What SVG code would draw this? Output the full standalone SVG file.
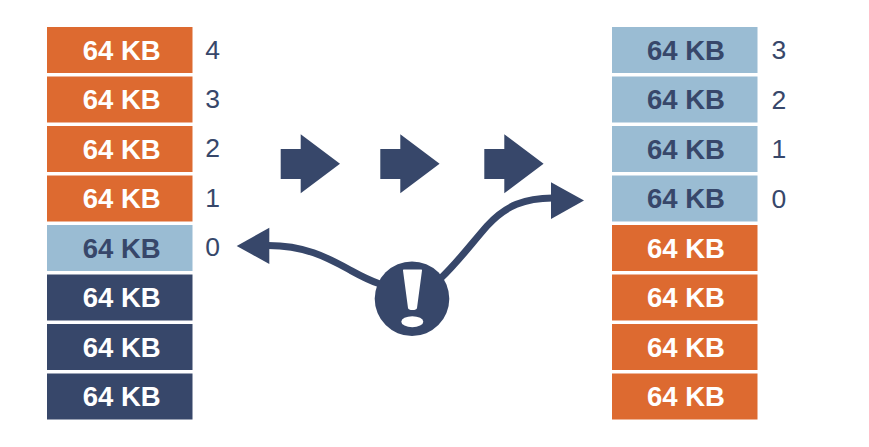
<svg xmlns="http://www.w3.org/2000/svg" width="869" height="447" viewBox="0 0 869 447">
<style>
.o{fill:#dd6a30}.b{fill:#9abcd3}.d{fill:#37476a}
text{font-family:"Liberation Sans",Arial,sans-serif}
.l{font-size:27.500px;font-weight:700;text-anchor:middle;fill:#fff}
.ld{font-size:27.500px;font-weight:700;text-anchor:middle;fill:#37476a}
.n{font-size:26.500px;fill:#37476a}
.c{fill:none;stroke:#37476a;stroke-width:7}
</style>
<rect width="869" height="447" fill="#fff"/>
<g id="connectors">
<path class="c" d="M266 245.500C305 245 328 258 350 270C360 275.500 368 280 380 284"/>
<path class="c" d="M440 279C458 262 472 243 487 226C505 206 525 197.500 555 198"/>
<polygon class="d" points="236.700,246 269.300,227.700 269.300,264"/>
<polygon class="d" points="584,200.500 551,182.300 551,219"/>
</g>
<g id="arrow-1"><polygon class="d" points="280.700,149 300.700,149 300.700,134.300 340,163.700 300.700,193.300 300.700,179 280.700,179"/></g>
<g id="arrow-2"><polygon class="d" points="380.300,149 400.300,149 400.300,134.300 439.600,163.700 400.300,193.300 400.300,179 380.300,179"/></g>
<g id="arrow-3"><polygon class="d" points="484.300,149 504.300,149 504.300,134.300 543.600,163.700 504.300,193.300 504.300,179 484.300,179"/></g>
<g id="warning">
<circle class="d" cx="412" cy="298.700" r="37.300"/>
<path fill="#fff" d="M403 270.500Q402.500 269.500 404 269.500L421 269.500Q422.500 269.500 422 270.500L417 308Q416.500 310 412.500 310Q408.500 310 408 308Z"/>
<ellipse cx="412.300" cy="321.700" rx="11" ry="5.500" fill="#fff"/>
</g>
<g id="left-0"><rect class="o" x="47" y="27" width="145.500" height="46"/><text class="l" x="121.700" y="59.500">64 KB</text><text class="n" x="205.300" y="58.500">4</text></g>
<g id="left-1"><rect class="o" x="47" y="76.500" width="145.500" height="46"/><text class="l" x="121.700" y="109">64 KB</text><text class="n" x="205.300" y="107.500">3</text></g>
<g id="left-2"><rect class="o" x="47" y="126" width="145.500" height="46"/><text class="l" x="121.700" y="158.500">64 KB</text><text class="n" x="205.300" y="157">2</text></g>
<g id="left-3"><rect class="o" x="47" y="175.500" width="145.500" height="46"/><text class="l" x="121.700" y="208">64 KB</text><text class="n" x="205.300" y="206.500">1</text></g>
<g id="left-4"><rect class="b" x="47" y="225" width="145.500" height="46"/><text class="ld" x="121.700" y="257.500">64 KB</text><text class="n" x="205.300" y="256">0</text></g>
<g id="left-5"><rect class="d" x="47" y="274.500" width="145.500" height="46"/><text class="l" x="121.700" y="307">64 KB</text></g>
<g id="left-6"><rect class="d" x="47" y="324" width="145.500" height="46"/><text class="l" x="121.700" y="356.500">64 KB</text></g>
<g id="left-7"><rect class="d" x="47" y="373.500" width="145.500" height="46"/><text class="l" x="121.700" y="406">64 KB</text></g>
<g id="right-0"><rect class="b" x="612" y="27" width="145.500" height="46"/><text class="ld" x="686" y="59.500">64 KB</text><text class="n" x="771.500" y="59">3</text></g>
<g id="right-1"><rect class="b" x="612" y="76.500" width="145.500" height="46"/><text class="ld" x="686" y="109">64 KB</text><text class="n" x="771.500" y="108.500">2</text></g>
<g id="right-2"><rect class="b" x="612" y="126" width="145.500" height="46"/><text class="ld" x="686" y="158.500">64 KB</text><text class="n" x="771.500" y="158">1</text></g>
<g id="right-3"><rect class="b" x="612" y="175.500" width="145.500" height="46"/><text class="ld" x="686" y="208">64 KB</text><text class="n" x="771.500" y="207.500">0</text></g>
<g id="right-4"><rect class="o" x="612" y="225" width="145.500" height="46"/><text class="l" x="686" y="257.500">64 KB</text></g>
<g id="right-5"><rect class="o" x="612" y="274.500" width="145.500" height="46"/><text class="l" x="686" y="307">64 KB</text></g>
<g id="right-6"><rect class="o" x="612" y="324" width="145.500" height="46"/><text class="l" x="686" y="356.500">64 KB</text></g>
<g id="right-7"><rect class="o" x="612" y="373.500" width="145.500" height="46"/><text class="l" x="686" y="406">64 KB</text></g>
</svg>
